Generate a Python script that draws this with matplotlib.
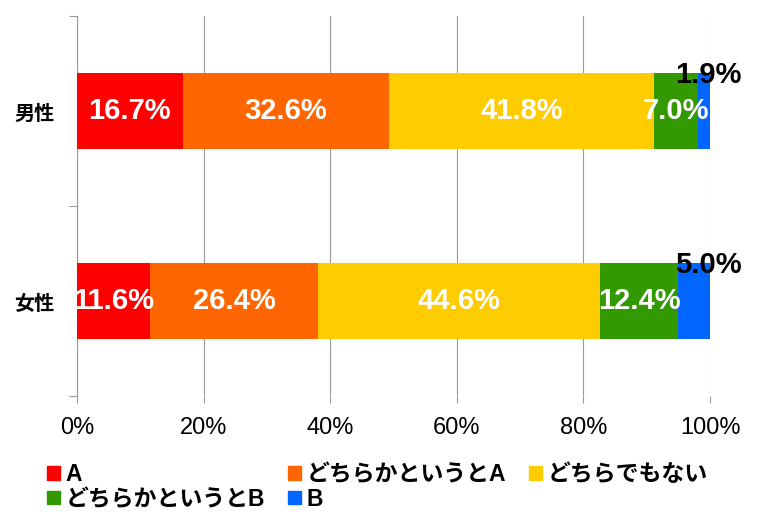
import numpy as np
import matplotlib
matplotlib.use("Agg")
import matplotlib.pyplot as plt
from matplotlib.patches import Patch

# data
groups = ["男性", "女性"]
series = ["A", "どちらかというとA", "どちらでもない", "どちらかというとB", "B"]
male = [16.7, 32.6, 41.8, 7.0, 1.9]
female = [11.6, 26.4, 44.6, 12.4, 5.0]
colors = ["#FF0000", "#FF6600", "#FFCC00", "#339900", "#0066FF"]
xticks = [0, 20, 40, 60, 80, 100]

plt.rcParams['font.family'] = ['Liberation Sans', 'Noto Sans CJK JP', 'DejaVu Sans']

fig = plt.figure(figsize=(7.66, 5.22), dpi=100)
ax = fig.add_axes([77 / 766, 126 / 522, 633 / 766, 380 / 522])

values = np.array([male, female])
ypos = np.array([1.5, 0.5])
left = np.zeros(len(groups))
for j, name in enumerate(series):
    ax.barh(ypos, values[:, j], left=left, height=0.4, color=colors[j], zorder=3)
    for i in range(len(groups)):
        v = values[i, j]
        if name == "B":
            # small last segment: label sits above the bar end
            ax.text(left[i] + v - 0.3, ypos[i] + 0.19, f"{v:.1f}%", ha="center", va="center",
                    color="black", fontsize=21, fontweight="bold", zorder=5)
        else:
            ax.text(left[i] + v / 2, ypos[i], f"{v:.1f}%", ha="center", va="center",
                    color="white", fontsize=21, fontweight="bold", zorder=5)
    left += values[:, j]

ax.set_xlim(0, 100)
ax.set_ylim(0, 2)
ax.set_xticks(xticks)
ax.set_xticklabels([f"{t}%" for t in xticks], fontsize=17)
ax.set_yticks([0, 1, 2])
ax.set_yticklabels([])
ax.set_yticks(ypos, minor=True)
ax.set_yticklabels(groups, minor=True, fontsize=14.5, fontweight="bold",
                   family=['Noto Sans CJK JP', 'DejaVu Sans'])
ax.tick_params(axis="y", which="minor", length=0, pad=16)
ax.tick_params(axis="y", which="major", length=6, color="#999999")
ax.tick_params(axis="x", length=5, color="#999999", pad=10)
ax.grid(axis="x", color="#999999", linewidth=0.8, zorder=0)
for s in ["top", "right", "bottom"]:
    ax.spines[s].set_visible(False)
ax.spines["left"].set_color("#999999")

handles = [Patch(color=c, label=s) for c, s in zip(colors, series)]
order = [0, 3, 1, 4, 2]
fig.legend([handles[k] for k in order], [series[k] for k in order], ncol=3,
           loc="upper left", bbox_to_anchor=(36 / 766, 1 - 452 / 522), frameon=False,
           handlelength=0.55, handleheight=0.55, handletextpad=0.25,
           columnspacing=1.0, labelspacing=0.05, borderpad=0,
           prop={"size": 16.5, "weight": "bold", "family": ['Liberation Sans', 'Noto Sans CJK JP']})

fig.savefig("out.png", dpi=100)
